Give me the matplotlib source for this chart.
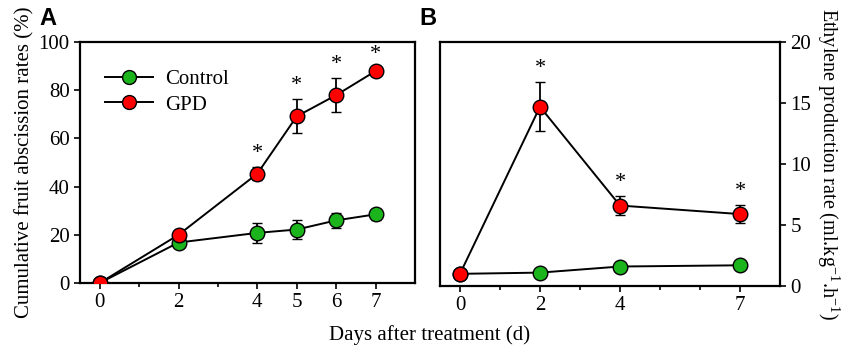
import matplotlib.pyplot as plt
from matplotlib.lines import Line2D

plt.rcParams['font.family'] = ['Liberation Serif', 'DejaVu Serif']
plt.rcParams['mathtext.fontset'] = 'stix'

# panel A: cumulative fruit abscission (%)
days_a = [0, 2, 4, 5, 6, 7]
ctrl_a = [0, 16.8, 20.8, 22.2, 26.0, 28.5]
ctrl_a_err = [0, 1.8, 4.0, 4.0, 3.2, 2.2]
gpd_a = [0, 20.0, 45.4, 69.2, 78.0, 88.0]
gpd_a_err = [0, 1.0, 2.8, 7.0, 7.2, 1.0]
stars_a = [4, 5, 6, 7]

# panel B: ethylene production (ml.kg-1.h-1)
days_b = [0, 2, 4, 7]
ctrl_b = [1.0, 1.1, 1.6, 1.7]
ctrl_b_err = [0, 0.1, 0.1, 0.1]
gpd_b = [1.0, 14.7, 6.6, 5.9]
gpd_b_err = [0, 2.0, 0.8, 0.75]
stars_b = [2, 4, 7]

green = '#1cb41c'
red = '#ff0000'
fs = 15

fig = plt.figure(figsize=(8.6, 3.54), dpi=100)
axA = fig.add_axes([0.093, 0.2006, 0.3896, 0.6804])
axB = fig.add_axes([0.5116, 0.192, 0.3954, 0.689])

mk = dict(marker='o', markersize=10.5, markeredgecolor='black', markeredgewidth=1.0,
          color='black', lw=1.4, ecolor='black', elinewidth=1.3, capsize=3.5, capthick=1.3)


def draw(ax, x, ctrl, ctrl_err, gpd, gpd_err, stars):
    ax.errorbar(x, ctrl, yerr=ctrl_err, markerfacecolor=green, zorder=3, **mk)
    ax.errorbar(x, gpd, yerr=gpd_err, markerfacecolor=red, zorder=4, **mk)
    for i, d in enumerate(x):
        if d in stars:
            ax.annotate('*', (d, gpd[i] + gpd_err[i]), xytext=(0, 3), textcoords='offset points',
                        ha='center', va='bottom', fontsize=16)
    ax.set_xlim(-0.5, 8)
    ax.set_xticks(x)
    ax.set_xticks(range(0, 8), minor=True)
    ax.tick_params(which='both', direction='out', labelsize=fs, width=1.2)
    ax.tick_params(which='major', length=4)
    ax.tick_params(which='minor', length=3)
    for s in ax.spines.values():
        s.set_linewidth(1.6)


draw(axA, days_a, ctrl_a, ctrl_a_err, gpd_a, gpd_a_err, stars_a)
axA.set_ylim(0, 100)
axA.set_yticks(range(0, 101, 20))
axA.set_ylabel('Cumulative fruit abscission rates (%)', fontsize=fs, labelpad=3)
handles = [Line2D([], [], color='black', lw=1.4, marker='o', markersize=10,
                  markerfacecolor=c, markeredgecolor='black') for c in (green, red)]
axA.legend(handles, ['Control', 'GPD'], loc='upper left', bbox_to_anchor=(0.075, 0.887),
           frameon=False, fontsize=fs, handlelength=2.3, handletextpad=0.58,
           labelspacing=0.3, borderaxespad=0, borderpad=0)

draw(axB, days_b, ctrl_b, ctrl_b_err, gpd_b, gpd_b_err, stars_b)
axB.set_ylim(0, 20)
axB.set_yticks(range(0, 21, 5))
axB.yaxis.tick_right()
axB.yaxis.set_label_position('right')
axB.set_ylabel(r'Ethylene production rate (ml.kg$^{\mathregular{-1}}$.h$^{\mathregular{-1}}$)',
               fontsize=14.5, rotation=-90, labelpad=22)

fig.text(0.5, 0.04, 'Days after treatment (d)', ha='center', fontsize=fs)
fig.text(0.046, 0.93, 'A', fontsize=17, fontweight='bold', family='Liberation Sans')
fig.text(0.488, 0.93, 'B', fontsize=17, fontweight='bold', family='Liberation Sans')

fig.savefig('out.png', dpi=100)
